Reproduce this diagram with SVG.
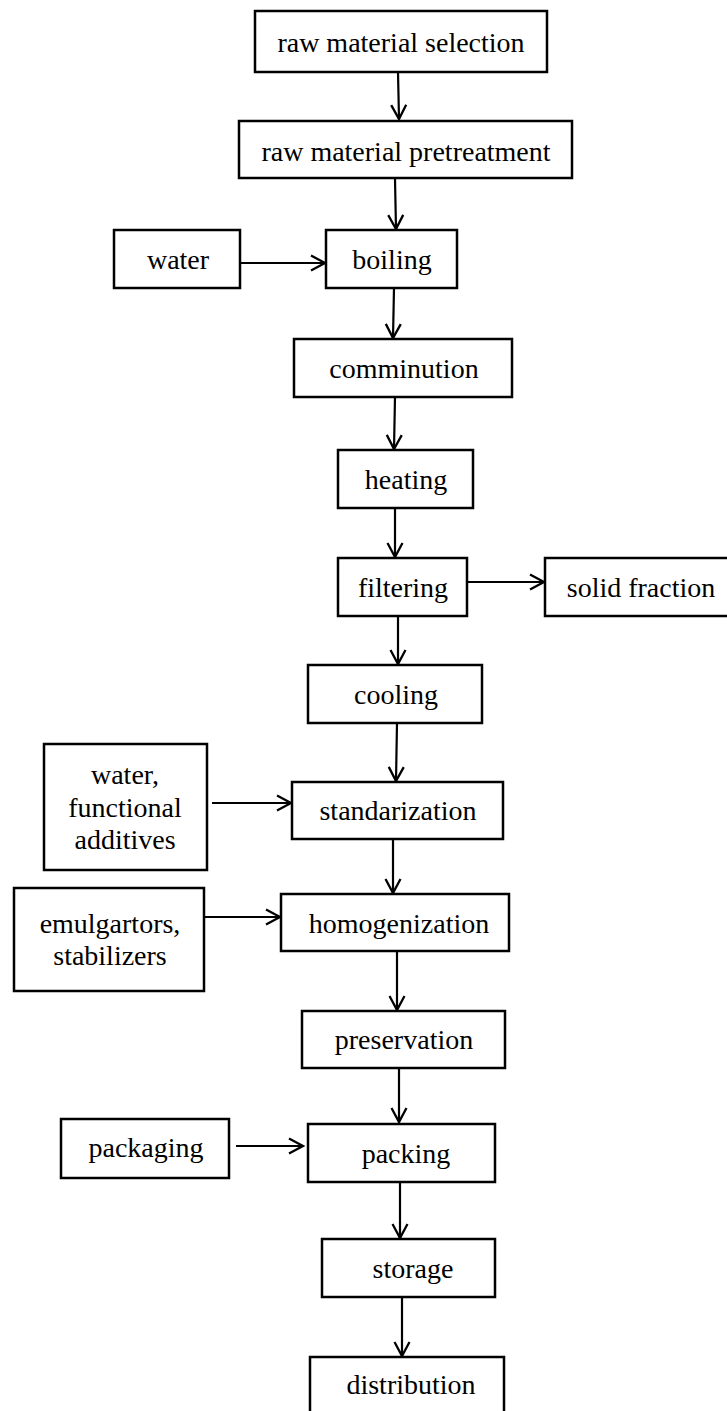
<svg xmlns="http://www.w3.org/2000/svg" width="727" height="1411" viewBox="0 0 727 1411">
<style>
.box{fill:#fff;stroke:#000;stroke-width:2.5}
.lbl{font-family:"Liberation Serif","Times New Roman",serif;font-size:28px;fill:#000;text-anchor:middle}
.edge{stroke:#000;stroke-width:2.2;fill:none;marker-end:url(#arr)}
</style>
<defs>
<marker id="arr" markerUnits="userSpaceOnUse" markerWidth="20" markerHeight="20" viewBox="-16 -10 18 20" refX="0" refY="0" orient="auto">
<path d="M-14,-7.5 L0,0 L-14,7.5" fill="none" stroke="#000" stroke-width="2.3"/>
</marker>
</defs>
<rect width="727" height="1411" fill="#fff"/>
<g id="connectors">
<line class="edge" x1="398" y1="72" x2="399" y2="119"/>
<line class="edge" x1="395" y1="179" x2="396" y2="229"/>
<line class="edge" x1="240" y1="263" x2="325" y2="263"/>
<line class="edge" x1="394" y1="288" x2="393" y2="338"/>
<line class="edge" x1="395" y1="397" x2="394" y2="449"/>
<line class="edge" x1="395" y1="508" x2="395" y2="557"/>
<line class="edge" x1="465" y1="582" x2="544" y2="582"/>
<line class="edge" x1="398" y1="616" x2="398" y2="664"/>
<line class="edge" x1="397" y1="723" x2="396" y2="781"/>
<line class="edge" x1="212" y1="803" x2="291" y2="803"/>
<line class="edge" x1="393" y1="839" x2="393" y2="893"/>
<line class="edge" x1="204" y1="917" x2="280" y2="917"/>
<line class="edge" x1="397" y1="951" x2="397" y2="1010"/>
<line class="edge" x1="399" y1="1068" x2="399" y2="1122"/>
<line class="edge" x1="236" y1="1146" x2="303" y2="1146"/>
<line class="edge" x1="400" y1="1182" x2="400" y2="1238"/>
<line class="edge" x1="402" y1="1297" x2="402" y2="1356"/>
</g>
<g id="n-selection"><rect class="box" x="255" y="11" width="292" height="61"/><text class="lbl" x="401" y="52">raw material selection</text></g>
<g id="n-pretreatment"><rect class="box" x="239" y="121" width="333" height="57"/><text class="lbl" x="406" y="161">raw material pretreatment</text></g>
<g id="n-water"><rect class="box" x="114" y="230" width="126" height="58"/><text class="lbl" x="178" y="269">water</text></g>
<g id="n-boiling"><rect class="box" x="326" y="230" width="131" height="58"/><text class="lbl" x="392" y="269">boiling</text></g>
<g id="n-comminution"><rect class="box" x="294" y="339" width="218" height="58"/><text class="lbl" x="404" y="378">comminution</text></g>
<g id="n-heating"><rect class="box" x="338" y="450" width="135" height="58"/><text class="lbl" x="406" y="489">heating</text></g>
<g id="n-filtering"><rect class="box" x="338" y="558" width="129" height="58"/><text class="lbl" x="403" y="597">filtering</text></g>
<g id="n-solid"><rect class="box" x="545" y="558" width="200" height="58"/><text class="lbl" x="641" y="597">solid fraction</text></g>
<g id="n-cooling"><rect class="box" x="308" y="665" width="174" height="58"/><text class="lbl" x="396" y="704">cooling</text></g>
<g id="n-additives"><rect class="box" x="44" y="744" width="163" height="126"/><text class="lbl" x="125" y="784">water,</text><text class="lbl" x="125" y="817">functional</text><text class="lbl" x="125" y="849">additives</text></g>
<g id="n-standarization"><rect class="box" x="292" y="782" width="211" height="57"/><text class="lbl" x="398" y="820">standarization</text></g>
<g id="n-emulgators"><rect class="box" x="14" y="888" width="190" height="103"/><text class="lbl" x="110" y="933">emulgartors,</text><text class="lbl" x="110" y="965">stabilizers</text></g>
<g id="n-homogenization"><rect class="box" x="281" y="894" width="228" height="57"/><text class="lbl" x="399" y="933">homogenization</text></g>
<g id="n-preservation"><rect class="box" x="302" y="1011" width="203" height="57"/><text class="lbl" x="404" y="1049">preservation</text></g>
<g id="n-packaging"><rect class="box" x="61" y="1119" width="168" height="59"/><text class="lbl" x="146" y="1157">packaging</text></g>
<g id="n-packing"><rect class="box" x="308" y="1124" width="187" height="58"/><text class="lbl" x="406" y="1163">packing</text></g>
<g id="n-storage"><rect class="box" x="322" y="1239" width="173" height="58"/><text class="lbl" x="413" y="1278">storage</text></g>
<g id="n-distribution"><rect class="box" x="310" y="1357" width="194" height="70"/><text class="lbl" x="411" y="1394">distribution</text></g>
</svg>
